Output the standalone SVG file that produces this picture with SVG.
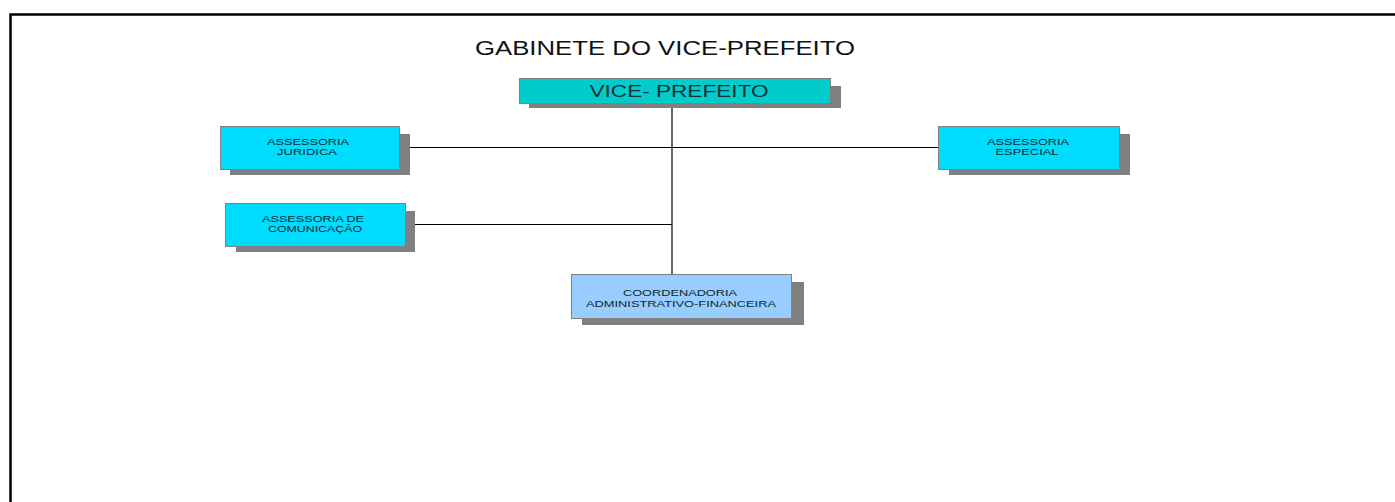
<svg xmlns="http://www.w3.org/2000/svg" width="1395" height="502" viewBox="0 0 1395 502">
<style>
.shadow{fill:#808080}
.box{stroke:#808080;stroke-width:1}
.cyan{fill:#00dcff}
.teal{fill:#00cccc}
.blue{fill:#99ccff}
.t{font-family:"Liberation Sans",Arial,sans-serif;font-size:9px;fill:#0a2a2a;text-anchor:middle}
.title{font-family:"Liberation Sans",Arial,sans-serif;font-size:20px;fill:#111;text-anchor:middle}
.conn{stroke:#000;stroke-width:1.2;fill:none}
</style>
<rect x="0" y="0" width="1395" height="502" fill="#fff"/>
<path d="M10.5 502 V14.5 H1395" fill="none" stroke="#000" stroke-width="2.5"/>
<text class="title" x="665" y="55" textLength="380" lengthAdjust="spacingAndGlyphs">GABINETE DO VICE-PREFEITO</text>
<g id="connectors">
<line class="conn" x1="672" y1="104" x2="672" y2="274"/>
<line class="conn" x1="399" y1="147.5" x2="938" y2="147.5"/>
<line class="conn" x1="406" y1="224.5" x2="672" y2="224.5"/>
</g>
<g id="vice-prefeito">
<rect class="shadow" x="529" y="86" width="312" height="22"/>
<rect class="box teal" x="519.5" y="78.5" width="311" height="25"/>
<text x="679" y="97" textLength="179" lengthAdjust="spacingAndGlyphs" style="font-family:'Liberation Sans',Arial,sans-serif;font-size:17px;fill:#103030;text-anchor:middle">VICE- PREFEITO</text>
</g>
<g id="assessoria-juridica">
<rect class="shadow" x="230" y="134" width="180" height="41"/>
<rect class="box cyan" x="220.5" y="126.5" width="179" height="43"/>
<text class="t" x="308" y="144.5" textLength="82" lengthAdjust="spacingAndGlyphs">ASSESSORIA</text>
<text class="t" x="307" y="154.5" textLength="60" lengthAdjust="spacingAndGlyphs">JURIDICA</text>
</g>
<g id="assessoria-especial">
<rect class="shadow" x="949" y="134" width="181" height="41"/>
<rect class="box cyan" x="938.5" y="126.5" width="181" height="43"/>
<text class="t" x="1028" y="144.5" textLength="82" lengthAdjust="spacingAndGlyphs">ASSESSORIA</text>
<text class="t" x="1027" y="154.5" textLength="63" lengthAdjust="spacingAndGlyphs">ESPECIAL</text>
</g>
<g id="assessoria-comunicacao">
<rect class="shadow" x="236" y="211" width="179" height="41"/>
<rect class="box cyan" x="225.5" y="203.5" width="180" height="43"/>
<text class="t" x="313" y="221.5" textLength="102" lengthAdjust="spacingAndGlyphs">ASSESSORIA DE</text>
<text class="t" x="315" y="231.5" textLength="94" lengthAdjust="spacingAndGlyphs">COMUNICAÇÃO</text>
</g>
<g id="coordenadoria">
<rect class="shadow" x="582" y="282" width="222" height="43"/>
<rect class="box blue" x="571.5" y="274.5" width="220" height="44"/>
<text class="t" x="680" y="296" textLength="114" lengthAdjust="spacingAndGlyphs">COORDENADORIA</text>
<text class="t" x="681" y="307" textLength="190" lengthAdjust="spacingAndGlyphs">ADMINISTRATIVO-FINANCEIRA</text>
</g>
</svg>
